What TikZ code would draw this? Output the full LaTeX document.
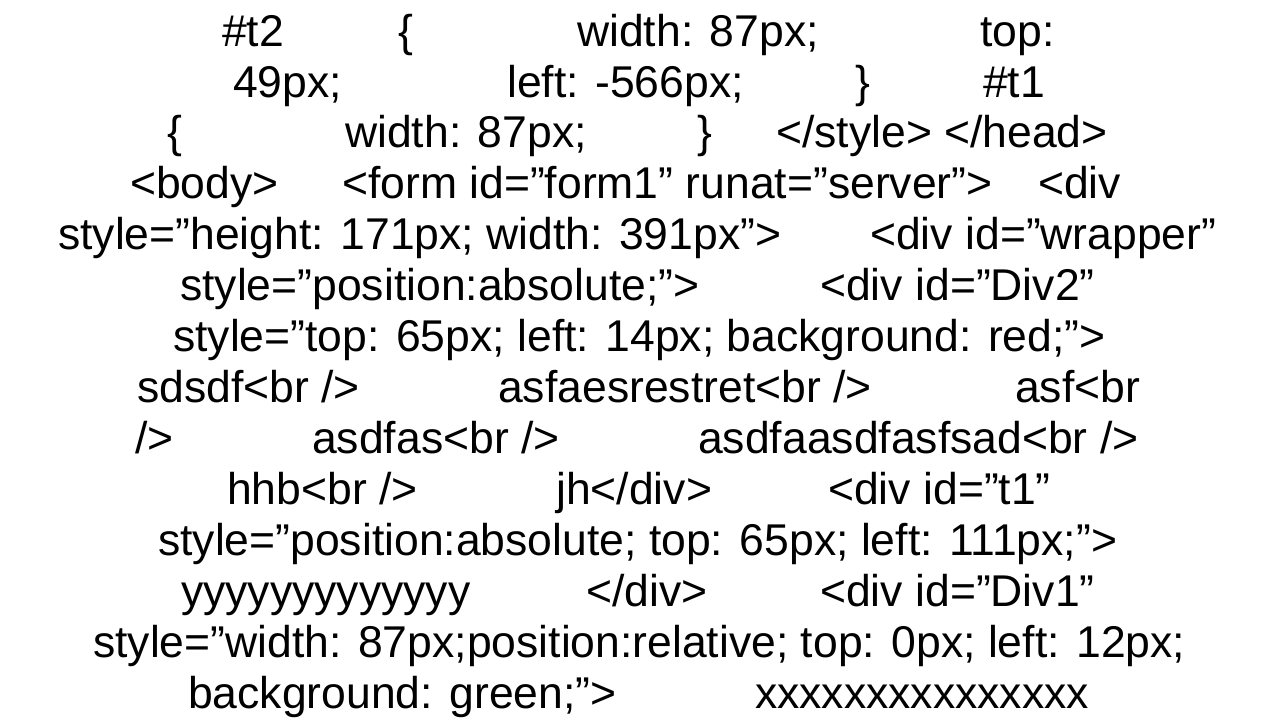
\documentclass[tikz,border=0pt]{standalone}
\usepackage{fontspec}
\setmainfont{Liberation Sans}
\begin{document}
\begin{tikzpicture}[x=1pt,y=-1pt,txt/.style={anchor=base west,inner sep=0pt,font=\fontsize{44.5}{51}\selectfont}]
\useasboundingbox (0,0) rectangle (1280,720);
\fill[white] (0,0) rectangle (1280,720);
\node[txt] (a1) at (222,46) {\#t2};
\node[txt] (a2) at (398,46) {\{};
\node[txt] (a3) at (577,46) {width: 87px;};
\node[txt] (a4) at (980,46) {top:};
\node[txt] (b1) at (233,97) {49px;};
\node[txt] (b2) at (507,97) {left: -566px;};
\node[txt] (b3) at (855,97) {\}};
\node[txt] (b4) at (983,97) {\#t1};
\node[txt] (c1) at (167,147) {\{};
\node[txt] (c2) at (345,147) {width: 87px;};
\node[txt] (c3) at (697,147) {\}};
\node[txt] (c4) at (776,147) {</style> </head>};
\node[txt] (d1) at (130,198) {<body>};
\node[txt] (d2) at (342,198) {<form id="form1" runat="server">};
\node[txt] (d3) at (1038,198) {<div};
\node[txt] (e1) at (58,249) {style="height: 171px; width: 391px">};
\node[txt] (e2) at (870,249) {<div id="wrapper"};
\node[txt] (f1) at (180,300) {style="position:absolute;">};
\node[txt] (f2) at (820,300) {<div id="Div2"};
\node[txt] (g1) at (173,351) {style="top: 65px; left: 14px; background: red;">};
\node[txt] (h1) at (137,402) {sdsdf<br />};
\node[txt] (h2) at (498,402) {asfaesrestret<br />};
\node[txt] (h3) at (1015,402) {asf<br};
\node[txt] (i1) at (135,453) {/>};
\node[txt] (i2) at (312,453) {asdfas<br />};
\node[txt] (i3) at (698,453) {asdfaasdfasfsad<br />};
\node[txt] (j1) at (227,504) {hhb<br />};
\node[txt] (j2) at (556,504) {jh</div>};
\node[txt] (j3) at (828,504) {<div id="t1"};
\node[txt] (k1) at (158,555) {style="position:absolute; top: 65px; left: 111px;">};
\node[txt] (l1) at (181,606) {yyyyyyyyyyyyy};
\node[txt] (l2) at (586,606) {</div>};
\node[txt] (l3) at (820,606) {<div id="Div1"};
\node[txt] (m1) at (93,657) {style="width: 87px;position:relative; top: 0px; left: 12px;};
\node[txt] (n1) at (188,708) {background: green;">};
\node[txt] (n2) at (755,708) {xxxxxxxxxxxxxxx};
\end{tikzpicture}
\end{document}
